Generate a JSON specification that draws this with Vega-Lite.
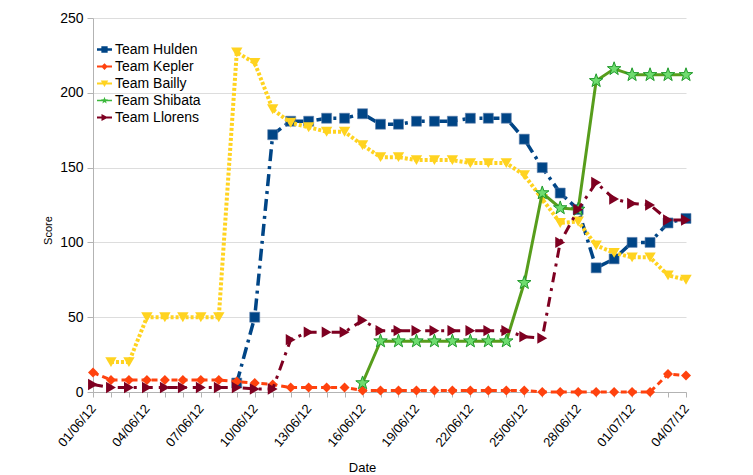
{
  "$schema": "https://vega.github.io/schema/vega-lite/v6.json",
  "width": 593,
  "height": 374,
  "autosize": "none",
  "padding": {"left": 93, "top": 18, "right": 67, "bottom": 83},
  "background": "white",
  "config": {
    "font": "Liberation Sans",
    "view": {"stroke": null},
    "axis": {"labelFont": "Liberation Sans", "titleFont": "Liberation Sans"}
  },
  "data": {"values": [
    {"date": "2012-06-09", "team": "Team Hulden", "score": 6},
    {"date": "2012-06-10", "team": "Team Hulden", "score": 50},
    {"date": "2012-06-11", "team": "Team Hulden", "score": 172},
    {"date": "2012-06-12", "team": "Team Hulden", "score": 181},
    {"date": "2012-06-13", "team": "Team Hulden", "score": 181},
    {"date": "2012-06-14", "team": "Team Hulden", "score": 183},
    {"date": "2012-06-15", "team": "Team Hulden", "score": 183},
    {"date": "2012-06-16", "team": "Team Hulden", "score": 186},
    {"date": "2012-06-17", "team": "Team Hulden", "score": 179},
    {"date": "2012-06-18", "team": "Team Hulden", "score": 179},
    {"date": "2012-06-19", "team": "Team Hulden", "score": 181},
    {"date": "2012-06-20", "team": "Team Hulden", "score": 181},
    {"date": "2012-06-21", "team": "Team Hulden", "score": 181},
    {"date": "2012-06-22", "team": "Team Hulden", "score": 183},
    {"date": "2012-06-23", "team": "Team Hulden", "score": 183},
    {"date": "2012-06-24", "team": "Team Hulden", "score": 183},
    {"date": "2012-06-25", "team": "Team Hulden", "score": 169},
    {"date": "2012-06-26", "team": "Team Hulden", "score": 150},
    {"date": "2012-06-27", "team": "Team Hulden", "score": 133},
    {"date": "2012-06-28", "team": "Team Hulden", "score": 122},
    {"date": "2012-06-29", "team": "Team Hulden", "score": 83},
    {"date": "2012-06-30", "team": "Team Hulden", "score": 89},
    {"date": "2012-07-01", "team": "Team Hulden", "score": 100},
    {"date": "2012-07-02", "team": "Team Hulden", "score": 100},
    {"date": "2012-07-03", "team": "Team Hulden", "score": 113},
    {"date": "2012-07-04", "team": "Team Hulden", "score": 116},

    {"date": "2012-06-01", "team": "Team Kepler", "score": 13},
    {"date": "2012-06-02", "team": "Team Kepler", "score": 8},
    {"date": "2012-06-03", "team": "Team Kepler", "score": 8},
    {"date": "2012-06-04", "team": "Team Kepler", "score": 8},
    {"date": "2012-06-05", "team": "Team Kepler", "score": 8},
    {"date": "2012-06-06", "team": "Team Kepler", "score": 8},
    {"date": "2012-06-07", "team": "Team Kepler", "score": 8},
    {"date": "2012-06-08", "team": "Team Kepler", "score": 8},
    {"date": "2012-06-09", "team": "Team Kepler", "score": 7},
    {"date": "2012-06-10", "team": "Team Kepler", "score": 6},
    {"date": "2012-06-11", "team": "Team Kepler", "score": 5},
    {"date": "2012-06-12", "team": "Team Kepler", "score": 3},
    {"date": "2012-06-13", "team": "Team Kepler", "score": 3},
    {"date": "2012-06-14", "team": "Team Kepler", "score": 3},
    {"date": "2012-06-15", "team": "Team Kepler", "score": 3},
    {"date": "2012-06-16", "team": "Team Kepler", "score": 1},
    {"date": "2012-06-17", "team": "Team Kepler", "score": 1},
    {"date": "2012-06-18", "team": "Team Kepler", "score": 1},
    {"date": "2012-06-19", "team": "Team Kepler", "score": 1},
    {"date": "2012-06-20", "team": "Team Kepler", "score": 1},
    {"date": "2012-06-21", "team": "Team Kepler", "score": 1},
    {"date": "2012-06-22", "team": "Team Kepler", "score": 1},
    {"date": "2012-06-23", "team": "Team Kepler", "score": 1},
    {"date": "2012-06-24", "team": "Team Kepler", "score": 1},
    {"date": "2012-06-25", "team": "Team Kepler", "score": 1},
    {"date": "2012-06-26", "team": "Team Kepler", "score": 0},
    {"date": "2012-06-27", "team": "Team Kepler", "score": 0},
    {"date": "2012-06-28", "team": "Team Kepler", "score": 0},
    {"date": "2012-06-29", "team": "Team Kepler", "score": 0},
    {"date": "2012-06-30", "team": "Team Kepler", "score": 0},
    {"date": "2012-07-01", "team": "Team Kepler", "score": 0},
    {"date": "2012-07-02", "team": "Team Kepler", "score": 0},
    {"date": "2012-07-03", "team": "Team Kepler", "score": 12},
    {"date": "2012-07-04", "team": "Team Kepler", "score": 11},

    {"date": "2012-06-02", "team": "Team Bailly", "score": 20},
    {"date": "2012-06-03", "team": "Team Bailly", "score": 20},
    {"date": "2012-06-04", "team": "Team Bailly", "score": 50},
    {"date": "2012-06-05", "team": "Team Bailly", "score": 50},
    {"date": "2012-06-06", "team": "Team Bailly", "score": 50},
    {"date": "2012-06-07", "team": "Team Bailly", "score": 50},
    {"date": "2012-06-08", "team": "Team Bailly", "score": 50},
    {"date": "2012-06-09", "team": "Team Bailly", "score": 227},
    {"date": "2012-06-10", "team": "Team Bailly", "score": 220},
    {"date": "2012-06-11", "team": "Team Bailly", "score": 189},
    {"date": "2012-06-12", "team": "Team Bailly", "score": 180},
    {"date": "2012-06-13", "team": "Team Bailly", "score": 177},
    {"date": "2012-06-14", "team": "Team Bailly", "score": 174},
    {"date": "2012-06-15", "team": "Team Bailly", "score": 174},
    {"date": "2012-06-16", "team": "Team Bailly", "score": 165},
    {"date": "2012-06-17", "team": "Team Bailly", "score": 157},
    {"date": "2012-06-18", "team": "Team Bailly", "score": 157},
    {"date": "2012-06-19", "team": "Team Bailly", "score": 155},
    {"date": "2012-06-20", "team": "Team Bailly", "score": 155},
    {"date": "2012-06-21", "team": "Team Bailly", "score": 155},
    {"date": "2012-06-22", "team": "Team Bailly", "score": 153},
    {"date": "2012-06-23", "team": "Team Bailly", "score": 153},
    {"date": "2012-06-24", "team": "Team Bailly", "score": 153},
    {"date": "2012-06-25", "team": "Team Bailly", "score": 145},
    {"date": "2012-06-26", "team": "Team Bailly", "score": 129},
    {"date": "2012-06-27", "team": "Team Bailly", "score": 113},
    {"date": "2012-06-28", "team": "Team Bailly", "score": 114},
    {"date": "2012-06-29", "team": "Team Bailly", "score": 98},
    {"date": "2012-06-30", "team": "Team Bailly", "score": 93},
    {"date": "2012-07-01", "team": "Team Bailly", "score": 90},
    {"date": "2012-07-02", "team": "Team Bailly", "score": 90},
    {"date": "2012-07-03", "team": "Team Bailly", "score": 78},
    {"date": "2012-07-04", "team": "Team Bailly", "score": 75},

    {"date": "2012-06-16", "team": "Team Shibata", "score": 6},
    {"date": "2012-06-17", "team": "Team Shibata", "score": 34},
    {"date": "2012-06-18", "team": "Team Shibata", "score": 34},
    {"date": "2012-06-19", "team": "Team Shibata", "score": 34},
    {"date": "2012-06-20", "team": "Team Shibata", "score": 34},
    {"date": "2012-06-21", "team": "Team Shibata", "score": 34},
    {"date": "2012-06-22", "team": "Team Shibata", "score": 34},
    {"date": "2012-06-23", "team": "Team Shibata", "score": 34},
    {"date": "2012-06-24", "team": "Team Shibata", "score": 34},
    {"date": "2012-06-25", "team": "Team Shibata", "score": 73},
    {"date": "2012-06-26", "team": "Team Shibata", "score": 133},
    {"date": "2012-06-27", "team": "Team Shibata", "score": 123},
    {"date": "2012-06-28", "team": "Team Shibata", "score": 122},
    {"date": "2012-06-29", "team": "Team Shibata", "score": 208},
    {"date": "2012-06-30", "team": "Team Shibata", "score": 216},
    {"date": "2012-07-01", "team": "Team Shibata", "score": 212},
    {"date": "2012-07-02", "team": "Team Shibata", "score": 212},
    {"date": "2012-07-03", "team": "Team Shibata", "score": 212},
    {"date": "2012-07-04", "team": "Team Shibata", "score": 212},

    {"date": "2012-06-01", "team": "Team Llorens", "score": 5},
    {"date": "2012-06-02", "team": "Team Llorens", "score": 3},
    {"date": "2012-06-03", "team": "Team Llorens", "score": 3},
    {"date": "2012-06-04", "team": "Team Llorens", "score": 3},
    {"date": "2012-06-05", "team": "Team Llorens", "score": 3},
    {"date": "2012-06-06", "team": "Team Llorens", "score": 3},
    {"date": "2012-06-07", "team": "Team Llorens", "score": 3},
    {"date": "2012-06-08", "team": "Team Llorens", "score": 3},
    {"date": "2012-06-09", "team": "Team Llorens", "score": 3},
    {"date": "2012-06-10", "team": "Team Llorens", "score": 2},
    {"date": "2012-06-11", "team": "Team Llorens", "score": 2},
    {"date": "2012-06-12", "team": "Team Llorens", "score": 35},
    {"date": "2012-06-13", "team": "Team Llorens", "score": 40},
    {"date": "2012-06-14", "team": "Team Llorens", "score": 40},
    {"date": "2012-06-15", "team": "Team Llorens", "score": 40},
    {"date": "2012-06-16", "team": "Team Llorens", "score": 48},
    {"date": "2012-06-17", "team": "Team Llorens", "score": 41},
    {"date": "2012-06-18", "team": "Team Llorens", "score": 41},
    {"date": "2012-06-19", "team": "Team Llorens", "score": 41},
    {"date": "2012-06-20", "team": "Team Llorens", "score": 41},
    {"date": "2012-06-21", "team": "Team Llorens", "score": 41},
    {"date": "2012-06-22", "team": "Team Llorens", "score": 41},
    {"date": "2012-06-23", "team": "Team Llorens", "score": 41},
    {"date": "2012-06-24", "team": "Team Llorens", "score": 41},
    {"date": "2012-06-25", "team": "Team Llorens", "score": 37},
    {"date": "2012-06-26", "team": "Team Llorens", "score": 36},
    {"date": "2012-06-27", "team": "Team Llorens", "score": 100},
    {"date": "2012-06-28", "team": "Team Llorens", "score": 122},
    {"date": "2012-06-29", "team": "Team Llorens", "score": 140},
    {"date": "2012-06-30", "team": "Team Llorens", "score": 129},
    {"date": "2012-07-01", "team": "Team Llorens", "score": 126},
    {"date": "2012-07-02", "team": "Team Llorens", "score": 125},
    {"date": "2012-07-03", "team": "Team Llorens", "score": 115},
    {"date": "2012-07-04", "team": "Team Llorens", "score": 115}
  ]},
  "encoding": {
    "x": {
      "field": "date", "type": "temporal",
      "scale": {"type": "utc", "domain": ["2012-06-01", "2012-07-04"], "nice": false},
      "axis": {
        "title": "Date",
        "titleFontSize": 13, "titleFontWeight": "normal", "titleColor": "#000000",
        "titleX": 269, "titleY": 69, "titleBaseline": "top", "titleAlign": "center",
        "tickCount": {"interval": "day", "step": 1},
        "labelExpr": "round((datum.value - 1338508800000) / 86400000) % 3 === 0 ? utcFormat(datum.value, '%d/%m/%y') : ''",
        "labelAngle": -50, "labelAlign": "right", "labelBaseline": "middle",
        "labelFontSize": 13, "labelColor": "#000000", "labelOverlap": false, "labelBound": false,
        "labelPadding": 9,
        "domainColor": "#b3b3b3", "tickColor": "#b3b3b3", "tickSize": 5,
        "grid": false
      }
    },
    "y": {
      "field": "score", "type": "quantitative",
      "scale": {"domain": [0, 250], "nice": false},
      "axis": {
        "title": "Score",
        "titleFontSize": 11, "titleFontWeight": "normal", "titleColor": "#000000",
        "titleX": -45, "titleY": 212, "titleAngle": -90, "titleAlign": "center", "titleBaseline": "middle",
        "values": [0, 50, 100, 150, 200, 250],
        "labelFontSize": 14, "labelColor": "#000000", "labelPadding": 4,
        "domainColor": "#b3b3b3", "tickColor": "#b3b3b3", "tickSize": 6,
        "grid": true, "gridColor": "#dddddd", "gridWidth": 1
      }
    }
  },
  "layer": [
    {
      "mark": {"type": "point", "opacity": 0, "filled": true},
      "encoding": {
        "color": {
          "field": "team", "type": "nominal",
          "scale": {
            "domain": ["Team Hulden", "Team Kepler", "Team Bailly", "Team Shibata", "Team Llorens"],
            "range": ["#004586", "#ff420e", "#ffd320", "#3cb83c", "#7e0021"]
          },
          "legend": {
            "title": null, "orient": "none", "legendX": 4, "legendY": 24,
            "labelFontSize": 14, "labelColor": "#000000", "labelFont": "Liberation Sans",
            "symbolSize": 225, "symbolOpacity": 1, "symbolStrokeWidth": 0,
            "rowPadding": 2, "labelOffset": 3, "padding": 0
          }
        },
        "shape": {
          "field": "team", "type": "nominal",
          "scale": {
            "domain": ["Team Hulden", "Team Kepler", "Team Bailly", "Team Shibata", "Team Llorens"],
            "range": [
              "M-1,-0.16H1V0.16H-1Z M-0.42,-0.42H0.42V0.42H-0.42Z",
              "M-1,-0.14H1V0.14H-1Z M0,-0.45L0.45,0L0,0.45L-0.45,0Z",
              "M-1,-0.14H1V0.14H-1Z M-0.5,-0.4L0.5,-0.4L0,0.45Z",
              "M-1,-0.1H1V0.1H-1Z M0,-0.5L0.12,-0.16L0.48,-0.15L0.19,0.06L0.29,0.4L0,0.2L-0.29,0.4L-0.19,0.06L-0.48,-0.15L-0.12,-0.16Z",
              "M-1,-0.12H1V0.12H-1Z M-0.4,-0.48L0.5,0L-0.4,0.48Z"
            ]
          },
          "legend": {
            "title": null, "orient": "none", "legendX": 4, "legendY": 24,
            "labelFontSize": 14, "labelColor": "#000000", "labelFont": "Liberation Sans",
            "symbolSize": 225, "symbolOpacity": 1, "symbolStrokeWidth": 0,
            "rowPadding": 2, "labelOffset": 3, "padding": 0
          }
        }
      }
    },
    {
      "transform": [{"filter": "datum.team === 'Team Hulden'"}],
      "mark": {"type": "line", "color": "#004586", "strokeWidth": 3.5, "strokeDash": [12, 5, 3, 5]}
    },
    {
      "transform": [{"filter": "datum.team === 'Team Hulden'"}],
      "mark": {"type": "point", "shape": "square", "filled": true, "size": 100, "fill": "#004586", "stroke": "#5f82ad", "strokeWidth": 0.6, "opacity": 1}
    },
    {
      "transform": [{"filter": "datum.team === 'Team Kepler'"}],
      "mark": {"type": "line", "color": "#ff420e", "strokeWidth": 3, "strokeDash": [6, 4]}
    },
    {
      "transform": [{"filter": "datum.team === 'Team Kepler'"}],
      "mark": {"type": "point", "shape": "diamond", "filled": true, "size": 100, "fill": "#ff420e", "opacity": 1}
    },
    {
      "transform": [{"filter": "datum.team === 'Team Bailly'"}],
      "mark": {"type": "line", "color": "#ffd320", "strokeWidth": 4, "strokeDash": [3, 2]}
    },
    {
      "transform": [{"filter": "datum.team === 'Team Bailly'"}],
      "mark": {"type": "point", "shape": "triangle-down", "filled": true, "size": 130, "fill": "#ffd320", "opacity": 1}
    },
    {
      "transform": [{"filter": "datum.team === 'Team Shibata'"}],
      "mark": {"type": "line", "color": "#579d1c", "strokeWidth": 3}
    },
    {
      "transform": [{"filter": "datum.team === 'Team Shibata'"}],
      "mark": {"type": "point", "shape": "M0,-1L0.235,-0.324L0.951,-0.309L0.38,0.124L0.588,0.809L0,0.4L-0.588,0.809L-0.38,0.124L-0.951,-0.309L-0.235,-0.324Z", "filled": true, "size": 200, "fill": "#6fdc6f", "stroke": "#1f9a2a", "strokeWidth": 1, "opacity": 1}
    },
    {
      "transform": [{"filter": "datum.team === 'Team Llorens'"}],
      "mark": {"type": "line", "color": "#7e0021", "strokeWidth": 3, "strokeDash": [10, 6, 3, 6]}
    },
    {
      "transform": [{"filter": "datum.team === 'Team Llorens'"}],
      "mark": {"type": "point", "shape": "triangle-right", "filled": true, "size": 130, "fill": "#7e0021", "opacity": 1}
    }
  ]
}
